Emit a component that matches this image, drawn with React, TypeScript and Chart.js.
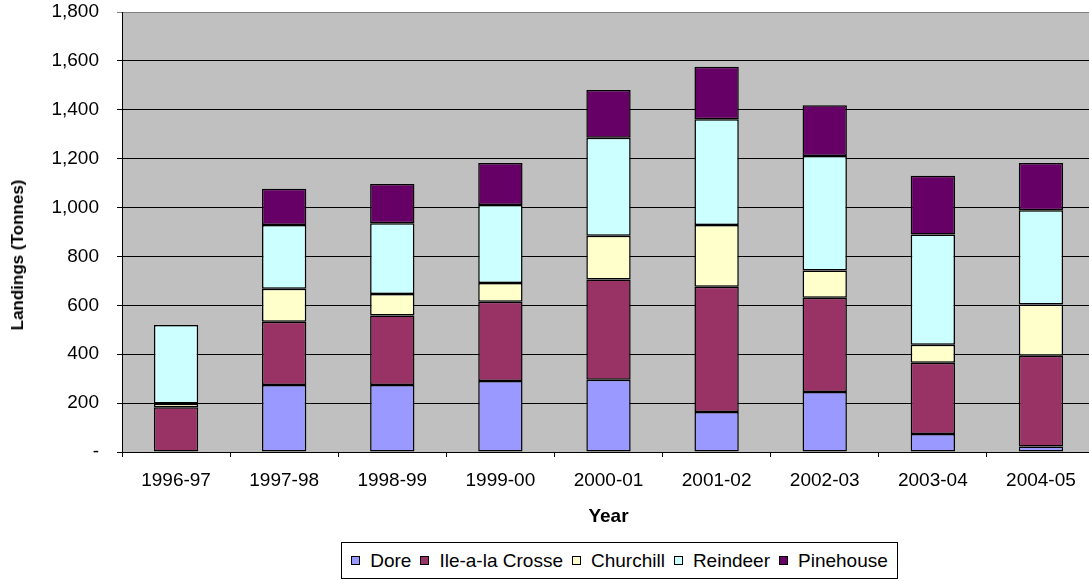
import React, { useEffect, useRef } from "react";
import { Chart, registerables } from "chart.js";

Chart.register(...registerables);

const categories = ["1996-97", "1997-98", "1998-99", "1999-00", "2000-01", "2001-02", "2002-03", "2003-04", "2004-05"];
const seriesNames = ["Dore", "Ile-a-la Crosse", "Churchill", "Reindeer", "Pinehouse"];
const seriesColors = ["#9999FF", "#993366", "#FFFFCC", "#CCFFFF", "#660066"];
const dore = [null, 274, 274, 290, 296, 164, 245, 74, 22];
const ileALaCrosse = [183, 259, 284, 325, 410, 512, 386, 291, 372];
const churchill = [15, 135, 88, 76, 179, 253, 112, 74, 209];
const reindeer = [322, 261, 290, 319, 401, 432, 468, 451, 386];
const pinehouse = [null, 148, 160, 172, 195, 215, 208, 240, 193];
const yTicks = [0, 200, 400, 600, 800, 1000, 1200, 1400, 1600, 1800];

const FONT = "'Liberation Sans', Arial, sans-serif";

const plotBackground = {
  id: "plotBackground",
  beforeDraw(chart: any) {
    const { ctx, chartArea: a } = chart;
    ctx.save();
    ctx.fillStyle = "#C0C0C0";
    ctx.fillRect(a.left, a.top, a.right - a.left, a.bottom - a.top);
    ctx.restore();
  },
};

export default function App() {
  const canvasRef = useRef<HTMLCanvasElement | null>(null);

  useEffect(() => {
    if (!canvasRef.current) return;
    const values = [dore, ileALaCrosse, churchill, reindeer, pinehouse];
    const chart = new Chart(canvasRef.current, {
      type: "bar",
      data: {
        labels: categories,
        datasets: seriesNames.map((name, i) => ({
          label: name,
          data: values[i],
          backgroundColor: seriesColors[i],
          borderColor: "#000000",
          borderWidth: 1.5,
          borderSkipped: false,
          barPercentage: 0.41,
          categoryPercentage: 1,
          stack: "s",
        })),
      },
      options: {
        responsive: false,
        animation: false,
        layout: { padding: { top: 12, right: 5, bottom: 53, left: 0 } },
        plugins: {
          legend: { display: false },
          tooltip: { enabled: false },
        },
        scales: {
          x: {
            stacked: true,
            grid: {
              offset: true,
              drawOnChartArea: false,
              drawTicks: true,
              tickLength: 5,
              color: "#000000",
            },
            border: { display: true, color: "#000000" },
            ticks: {
              color: "#000000",
              font: { family: FONT, size: 19 },
              padding: 12,
              maxRotation: 0,
              autoSkip: false,
            },
            title: {
              display: true,
              text: "Year",
              color: "#000000",
              font: { family: FONT, size: 19, weight: "bold" },
              padding: { top: 0, bottom: 0 },
            },
            afterFit: (s: any) => {
              s.height = 76;
              s.paddingLeft = 0;
              s.paddingRight = 0;
            },
          },
          y: {
            stacked: true,
            min: 0,
            max: 1800,
            afterBuildTicks: (s: any) => {
              s.ticks = yTicks.map((v) => ({ value: v }));
            },
            grid: {
              color: (c: any) => (c.tick && c.tick.value === 1800 ? "#808080" : "#000000"),
              drawTicks: true,
              tickLength: 5,
            },
            border: { display: true, color: "#000000" },
            ticks: {
              color: "#000000",
              font: { family: FONT, size: 19 },
              padding: 18,
              callback: (v: any) => (Number(v) === 0 ? "-" : Number(v).toLocaleString("en-US")),
            },
            afterFit: (s: any) => {
              s.width = 122;
              s.paddingTop = 0;
              s.paddingBottom = 0;
            },
          },
        },
      },
      plugins: [plotBackground],
    });
    return () => chart.destroy();
  }, []);

  return (
    <div
      style={{
        position: "fixed",
        left: 0,
        top: 0,
        width: 1089,
        height: 581,
        overflow: "hidden",
        background: "#ffffff",
        fontFamily: FONT,
      }}
    >
      <canvas ref={canvasRef} width={1100} height={581} style={{ display: "block", width: 1100, height: 581 }} />
      <div
        style={{
          position: "absolute",
          left: 18,
          top: 255,
          transform: "translate(-50%, -50%) rotate(-90deg)",
          whiteSpace: "nowrap",
          fontWeight: "bold",
          fontSize: 17,
          color: "#000",
        }}
      >
        Landings (Tonnes)
      </div>
      <div
        style={{
          position: "absolute",
          left: 341,
          top: 542,
          width: 557,
          height: 37,
          boxSizing: "border-box",
          border: "1px solid #000",
          display: "flex",
          alignItems: "center",
          justifyContent: "center",
          fontSize: 19,
          color: "#000",
          background: "#fff",
        }}
      >
        {seriesNames.map((name, i) => (
          <span key={name} style={{ display: "flex", alignItems: "center", marginRight: i < seriesNames.length - 1 ? 9 : 0 }}>
            <span
              style={{
                display: "inline-block",
                width: 9,
                height: 9,
                boxSizing: "border-box",
                border: "1px solid #000",
                background: seriesColors[i],
                marginRight: 10,
              }}
            />
            {name}
          </span>
        ))}
      </div>
    </div>
  );
}
